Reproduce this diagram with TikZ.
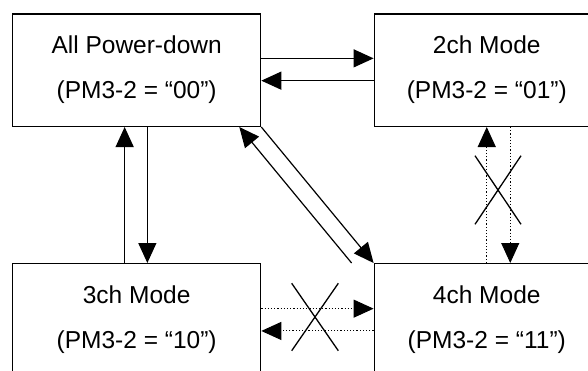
\documentclass[tikz,border=0pt]{standalone}
\usepackage{fontspec}
\setmainfont{Liberation Sans}
\usetikzlibrary{positioning,arrows.meta}

\begin{document}
\begin{tikzpicture}[x=1pt, y=-1pt,
    box/.style={rectangle, draw, line width=1.3pt, minimum width=248pt, minimum height=112.4pt, align=center, inner sep=0pt, font=\fontsize{24.5}{45}\selectfont},
    arrow/.style={-{Triangle[length=20pt, width=18pt]}, line width=1.2pt},
    dotarrow/.style={arrow, dotted, line width=1pt},
    cross/.style={line width=1.3pt},
]
\clip (0,0) rectangle (588,370);

% Mode boxes
\node[box, anchor=north west] (apd) at (12,13.3) {All Power-down\\(PM3-2 = “00”)};
\node[box, minimum width=225pt, right=112.3pt of apd] (twoch) {2ch Mode\\(PM3-2 = “01”)};
\node[box, below=136pt of apd] (threech) {3ch Mode\\(PM3-2 = “10”)};
\node[box, minimum width=225pt, below=136pt of twoch] (fourch) {4ch Mode\\(PM3-2 = “11”)};

% All Power-down <-> 2ch
\draw[arrow] ([yshift=11.8pt]apd.east) -- ([yshift=11.8pt]twoch.west);
\draw[arrow] ([yshift=-10.5pt]twoch.west) -- ([yshift=-10.5pt]apd.east);

% All Power-down <-> 3ch
\draw[arrow] ([xshift=-12pt]threech.north) -- ([xshift=-12pt]apd.south);
\draw[arrow] ([xshift=10.7pt]apd.south) -- ([xshift=10.7pt]threech.north);

% All Power-down <-> 4ch
\draw[arrow] (apd.south east) -- (fourch.north west);
\draw[arrow] ([xshift=-22pt]fourch.north west) -- ([xshift=-22pt]apd.south east);

% 2ch <-> 4ch (not allowed)
\draw[dotarrow] (fourch.north) -- (twoch.south);
\draw[dotarrow] ([xshift=23.5pt]twoch.south) -- ([xshift=23.5pt]fourch.north);
\draw[cross] (475,155.7) -- (521,224.3) (521,155.7) -- (475,224.3);

% 3ch <-> 4ch (not allowed)
\draw[dotarrow] ([yshift=11.2pt]threech.east) -- ([yshift=11.2pt]fourch.west);
\draw[dotarrow] ([yshift=-11.1pt]fourch.west) -- ([yshift=-11.1pt]threech.east);
\draw[cross] (291.7,283.3) -- (338.3,350.7) (338.3,283.3) -- (291.7,350.7);

\end{tikzpicture}
\end{document}
